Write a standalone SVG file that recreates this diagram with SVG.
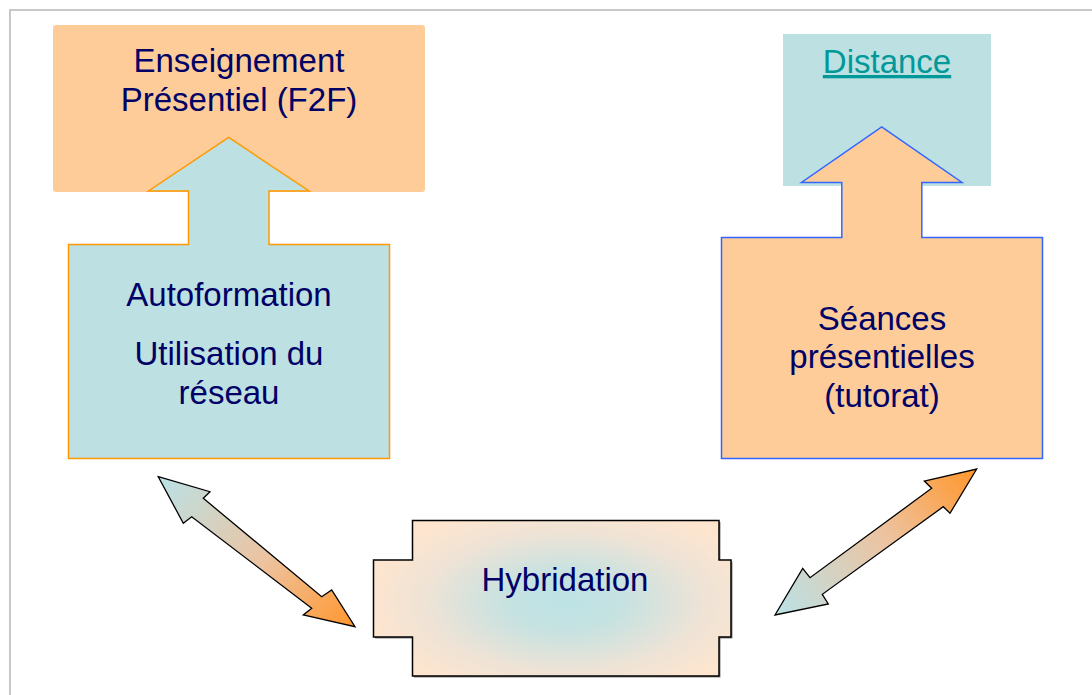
<svg xmlns="http://www.w3.org/2000/svg" width="1092" height="695" viewBox="0 0 1092 695">
<defs>
<style>
.t{font-family:"Liberation Sans",Arial,sans-serif;font-size:33px;fill:#000066;text-anchor:middle}
.dbl{stroke:#000;stroke-width:1.3;stroke-linejoin:miter}
</style>
<linearGradient id="gL" gradientUnits="userSpaceOnUse" x1="165" y1="482" x2="350" y2="622">
<stop offset="0" stop-color="#BDE0E2"/><stop offset="0.55" stop-color="#EDC3A0"/><stop offset="1" stop-color="#FF9933"/>
</linearGradient>
<linearGradient id="gR" gradientUnits="userSpaceOnUse" x1="970" y1="474" x2="782" y2="610">
<stop offset="0" stop-color="#FF9933"/><stop offset="0.45" stop-color="#EDC3A0"/><stop offset="1" stop-color="#BDE0E2"/>
</linearGradient>
<radialGradient id="gH" gradientUnits="userSpaceOnUse" cx="565" cy="602" r="230" gradientTransform="translate(565 602) scale(1 0.5) translate(-565 -602)">
<stop offset="0" stop-color="#BDE3E6"/><stop offset="0.25" stop-color="#C6E2E1"/><stop offset="0.6" stop-color="#EEE3D6"/><stop offset="0.85" stop-color="#FDE5CF"/><stop offset="1" stop-color="#FDE3CC"/>
</radialGradient>
</defs>
<rect x="10" y="10" width="1100" height="700" fill="none" stroke="#C8C8C8" stroke-width="2"/>
<g id="node-enseignement">
<rect x="53" y="25" width="372" height="167" rx="3" fill="#FDCC99"/>
<text class="t" x="239" y="72">Enseignement</text>
<text class="t" x="239" y="111">Présentiel (F2F)</text>
</g>
<g id="node-autoformation">
<path d="M68.5,244.5 H188.5 V191 H148.5 L228.7,137.5 L309,191 H269 V244.5 H389.5 V458.5 H68.5 Z" fill="#BDE0E2" stroke="#FF9900" stroke-width="1.5"/>
<text class="t" x="229" y="306">Autoformation</text>
<text class="t" x="229" y="365">Utilisation du</text>
<text class="t" x="229" y="404">réseau</text>
</g>
<g id="node-distance">
<rect x="783" y="34" width="208" height="152" fill="#BDE0E2"/>
<text class="t" x="887" y="73" style="fill:#009999;text-decoration:underline">Distance</text>
</g>
<g id="node-seances">
<path d="M721.5,237.5 H841.8 V182.5 H801.5 L881.7,127 L962,182.5 H921.8 V237.5 H1042.5 V458.5 H721.5 Z" fill="#FDCC99" stroke="#3366FF" stroke-width="1.5"/>
<text class="t" x="882" y="330">Séances</text>
<text class="t" x="882" y="368">présentielles</text>
<text class="t" x="882" y="407">(tutorat)</text>
</g>
<g id="node-hybridation">
<path d="M414,522 H720.5 V561.5 H732.5 V638.5 H720.5 V677.5 H414 V638.5 H375 V561.5 H414 Z" fill="#333" opacity="0.6"/>
<path d="M412.5,520.5 H719 V560 H731 V637 H719 V676 H412.5 V637 H373.5 V560 H412.5 Z" fill="url(#gH)" stroke="#000" stroke-width="1.5"/>
<text class="t" x="565" y="591">Hybridation</text>
</g>
<g id="connectors">
<path class="dbl" fill="url(#gL)" d="M158.3,476.7 L210,491.7 L203.3,498.3 L321.7,596.7 L331.7,590 L355,626.7 L303.3,615 L311.7,608.3 L191.7,516.7 L183.3,523.3 Z"/>
<path class="dbl" fill="url(#gR)" d="M976.7,469 L950,513.3 L943.3,506.7 L822.3,594.3 L828.3,604 L775,615 L802.7,568.3 L810,577.7 L931.7,488.3 L924.3,481 Z"/>
</g>
</svg>
